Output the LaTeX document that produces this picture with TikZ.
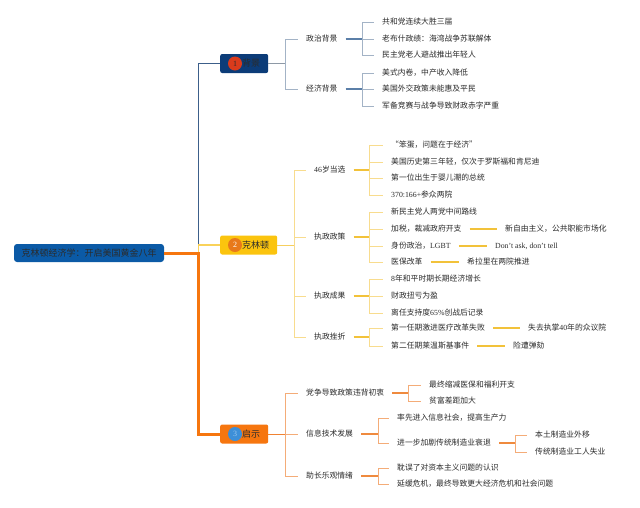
\documentclass[tikz,border=0pt]{standalone}
\usepackage{fontspec}
\setmainfont{Liberation Serif}
\newfontfamily\cjk{Noto Sans CJK SC}
\usepackage{tikz}

\definecolor{RootBlue}{HTML}{0B5AA6}
\definecolor{NavyBox}{HTML}{0C3C78}
\definecolor{GoldBox}{HTML}{FBC40E}
\definecolor{OrangeBox}{HTML}{F6760F}
\definecolor{Ink}{HTML}{2B2B2B}
\definecolor{BadgeRed}{HTML}{DA3B1C}
\definecolor{BadgeOrange}{HTML}{E8791A}
\definecolor{BadgeBlue}{HTML}{3D8FD8}

\begin{document}
\begin{tikzpicture}[x=1pt,y=-1pt]
			\tikzstyle{Root}	= [rectangle, rounded corners=3pt, fill=RootBlue, text=Ink, font=\cjk\fontsize{9}{10}\selectfont, minimum width=150pt, minimum height=18pt, inner sep=0pt]
			\tikzstyle{Branch}	= [rectangle, rounded corners=2pt, anchor=west, text=Ink, font=\cjk\fontsize{9}{10}\selectfont, minimum height=19pt, inner xsep=8pt, inner ysep=0pt]
			\tikzstyle{Badge}	= [circle, minimum size=14pt, inner sep=0pt, font=\rmfamily\fontsize{8}{8}\selectfont]
			\tikzstyle{Item}	= [anchor=west, inner xsep=8pt, inner ysep=1pt, text=Ink, font=\cjk\fontsize{7.8}{9}\selectfont]
			\tikzstyle{RB}		= [draw={rgb,255:red,60;green,95;blue,138}, line width=1.2pt]
			\tikzstyle{RY}		= [draw={rgb,255:red,249;green,210;blue,90}, line width=1.2pt]
			\tikzstyle{RO}		= [draw=OrangeBox, line width=3pt, rounded corners=2pt]
			\tikzstyle{BLink}	= [draw={rgb,255:red,142;green,153;blue,166}, line width=1pt]
			\tikzstyle{BStem}	= [draw={rgb,255:red,91;green,127;blue,168}, line width=1.5pt]
			\tikzstyle{BTwig}	= [draw={rgb,255:red,163;green,179;blue,198}, line width=0.8pt]
			\tikzstyle{YLink}	= [draw={rgb,255:red,246;green,207;blue,94}, line width=1pt]
			\tikzstyle{YStem}	= [draw={rgb,255:red,242;green,194;blue,58}, line width=1.5pt]
			\tikzstyle{YTwig}	= [draw={rgb,255:red,248;green,220;blue,142}, line width=0.8pt]
			\tikzstyle{OLink}	= [draw={rgb,255:red,240;green,130;blue,50}, line width=1pt]
			\tikzstyle{OStem}	= [draw={rgb,255:red,239;green,138;blue,62}, line width=1.5pt]
			\tikzstyle{OTwig}	= [draw={rgb,255:red,244;green,172;blue,120}, line width=0.8pt]

			\useasboundingbox [fill=white] (0,0) rectangle (640,507);

			% root and main branches
			\node (r) at (89,253) [Root] {克林顿经济学：开启美国黄金八年};
			\node (b1) at (220,63.5) [Branch][fill=NavyBox] {\hspace{14pt}背景};
			\node (b2) at (220,245) [Branch][fill=GoldBox] {\hspace{14pt}克林顿};
			\node (b3) at (220,434) [Branch][fill=OrangeBox] {\hspace{14pt}启示};
			\node (c1) at ([xshift=15pt]b1.west) [Badge][fill=BadgeRed, text=Ink] {1};
			\node (c2) at ([xshift=15pt]b2.west) [Badge][fill=BadgeOrange, text=white] {2};
			\node (c3) at ([xshift=15pt]b3.west) [Badge][fill=BadgeBlue, text={rgb,255:red,156;green,200;blue,238}] {3};

			\draw [-] (r.east) -- ++(34,0) |- (b1.west) [RB];
			\draw [-] (r.east) -- ++(34,0) |- (b2.west) [RY];
			\draw [-] (r.east) -- ++(34,0) |- (b3.west) [RO];

			% background
			\node (s1) at (298,39) [Item] {政治背景};
			\node (s2) at (298,89) [Item] {经济背景};
			\node (l1) at (374,22) [Item] {共和党连续大胜三届};
			\node (l2) at (374,39) [Item] {老布什政绩：海湾战争苏联解体};
			\node (l3) at (374,55) [Item] {民主党老人避战推出年轻人};
			\node (l4) at (374,73) [Item] {美式内卷，中产收入降低};
			\node (l5) at (374,89) [Item] {美国外交政策未能惠及平民};
			\node (l6) at (374,106) [Item] {军备竞赛与战争导致财政赤字严重};

			\draw [-] (b1.east) -- ++(17,0) [BLink];
			\draw [-] ([xshift=17pt]b1.east) |- (s1.west) [BTwig];
			\draw [-] ([xshift=17pt]b1.east) |- (s2.west) [BTwig];
			\draw [-] (s1.east) -- ++(17,0) [BStem];
			\draw [-] (s2.east) -- ++(17,0) [BStem];
			\draw [-] ([xshift=17pt]s1.east) |- (l1.west) [BTwig];
			\draw [-] ([xshift=17pt]s1.east) |- (l2.west) [BTwig];
			\draw [-] ([xshift=17pt]s1.east) |- (l3.west) [BTwig];
			\draw [-] ([xshift=17pt]s2.east) |- (l4.west) [BTwig];
			\draw [-] ([xshift=17pt]s2.east) |- (l5.west) [BTwig];
			\draw [-] ([xshift=17pt]s2.east) |- (l6.west) [BTwig];

			% clinton
			\node (s3) at (306,170) [Item] {{\rmfamily 46}岁当选};
			\node (s4) at (306,237) [Item] {执政政策};
			\node (s5) at (306,296) [Item] {执政成果};
			\node (s6) at (306,337) [Item] {执政挫折};
			\node (l7) at (383,145) [Item] {“笨蛋，问题在于经济”};
			\node (l8) at (383,162) [Item] {美国历史第三年轻，仅次于罗斯福和肯尼迪};
			\node (l9) at (383,178) [Item] {第一位出生于婴儿潮的总统};
			\node (l10) at (383,195) [Item] {{\rmfamily 370:166+}参众两院};
			\node (l11) at (383,212) [Item] {新民主党人两党中间路线};
			\node (l12) at (383,229) [Item] {加税，裁减政府开支};
			\node (l13) at (383,246) [Item] {身份政治，{\rmfamily LGBT}};
			\node (l14) at (383,262) [Item] {医保改革};
			\node (e1) at (497,229) [Item] {新自由主义，公共职能市场化};
			\node (e2) at (487,246) [Item] {\rmfamily Don't ask, don't tell};
			\node (e3) at (459,262) [Item] {希拉里在两院推进};
			\node (l15) at (383,279) [Item] {{\rmfamily 8}年和平时期长期经济增长};
			\node (l16) at (383,296) [Item] {财政扭亏为盈};
			\node (l17) at (383,313) [Item] {离任支持度{\rmfamily 65\%}创战后记录};
			\node (l18) at (383,328) [Item] {第一任期激进医疗改革失败};
			\node (l19) at (383,346) [Item] {第二任期莱温斯基事件};
			\node (e4) at (520,328) [Item] {失去执掌{\rmfamily 40}年的众议院};
			\node (e5) at (505,346) [Item] {险遭弹劾};

			\draw [-] (b2.east) -- ++(17,0) [YLink];
			\draw [-] ([xshift=17pt]b2.east) |- (s3.west) [YTwig];
			\draw [-] ([xshift=17pt]b2.east) |- (s4.west) [YTwig];
			\draw [-] ([xshift=17pt]b2.east) |- (s5.west) [YTwig];
			\draw [-] ([xshift=17pt]b2.east) |- (s6.west) [YTwig];
			\draw [-] (s3.east) -- ++(16,0) [YStem];
			\draw [-] (s4.east) -- ++(16,0) [YStem];
			\draw [-] (s5.east) -- ++(16,0) [YStem];
			\draw [-] (s6.east) -- ++(16,0) [YStem];
			\draw [-] ([xshift=16pt]s3.east) |- (l7.west) [YTwig];
			\draw [-] ([xshift=16pt]s3.east) |- (l8.west) [YTwig];
			\draw [-] ([xshift=16pt]s3.east) |- (l9.west) [YTwig];
			\draw [-] ([xshift=16pt]s3.east) |- (l10.west) [YTwig];
			\draw [-] ([xshift=16pt]s4.east) |- (l11.west) [YTwig];
			\draw [-] ([xshift=16pt]s4.east) |- (l12.west) [YTwig];
			\draw [-] ([xshift=16pt]s4.east) |- (l13.west) [YTwig];
			\draw [-] ([xshift=16pt]s4.east) |- (l14.west) [YTwig];
			\draw [-] ([xshift=16pt]s5.east) |- (l15.west) [YTwig];
			\draw [-] ([xshift=16pt]s5.east) |- (l16.west) [YTwig];
			\draw [-] ([xshift=16pt]s5.east) |- (l17.west) [YTwig];
			\draw [-] ([xshift=16pt]s6.east) |- (l18.west) [YTwig];
			\draw [-] ([xshift=16pt]s6.east) |- (l19.west) [YTwig];
			\draw [-] (l12.east) -- (e1.west) [YStem];
			\draw [-] (l13.east) -- (e2.west) [YStem];
			\draw [-] (l14.east) -- (e3.west) [YStem];
			\draw [-] (l18.east) -- (e4.west) [YStem];
			\draw [-] (l19.east) -- (e5.west) [YStem];

			% lessons
			\node (s7) at (298,393) [Item] {党争导致政策违背初衷};
			\node (s8) at (298,434) [Item] {信息技术发展};
			\node (s9) at (298,476) [Item] {助长乐观情绪};
			\node (l20) at (421,385) [Item] {最终缩减医保和福利开支};
			\node (l21) at (421,401) [Item] {贫富差距加大};
			\node (l22) at (389,418) [Item] {率先进入信息社会，提高生产力};
			\node (l23) at (389,443) [Item] {进一步加剧传统制造业衰退};
			\node (l24) at (527,435) [Item] {本土制造业外移};
			\node (l25) at (527,452) [Item] {传统制造业工人失业};
			\node (l26) at (389,468) [Item] {耽误了对资本主义问题的认识};
			\node (l27) at (389,484) [Item] {延缓危机，最终导致更大经济危机和社会问题};

			\draw [-] (b3.east) -- ++(17,0) [OLink];
			\draw [-] ([xshift=17pt]b3.east) |- (s7.west) [OTwig];
			\draw [-] ([xshift=17pt]b3.east) |- (s8.west) [OTwig];
			\draw [-] ([xshift=17pt]b3.east) |- (s9.west) [OTwig];
			\draw [-] (s7.east) -- ++(16,0) [OStem];
			\draw [-] (s8.east) -- ++(17,0) [OStem];
			\draw [-] (s9.east) -- ++(17,0) [OStem];
			\draw [-] (l23.east) -- ++(16,0) [OStem];
			\draw [-] ([xshift=16pt]s7.east) |- (l20.west) [OTwig];
			\draw [-] ([xshift=16pt]s7.east) |- (l21.west) [OTwig];
			\draw [-] ([xshift=17pt]s8.east) |- (l22.west) [OTwig];
			\draw [-] ([xshift=17pt]s8.east) |- (l23.west) [OTwig];
			\draw [-] ([xshift=16pt]l23.east) |- (l24.west) [OTwig];
			\draw [-] ([xshift=16pt]l23.east) |- (l25.west) [OTwig];
			\draw [-] ([xshift=17pt]s9.east) |- (l26.west) [OTwig];
			\draw [-] ([xshift=17pt]s9.east) |- (l27.west) [OTwig];
\end{tikzpicture}
\end{document}
